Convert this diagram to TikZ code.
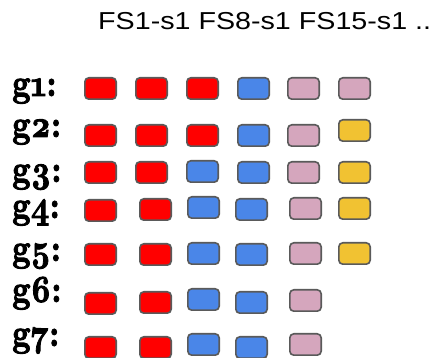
\documentclass[tikz,border=0pt]{standalone}
\usepackage{fontspec}
\newfontfamily\headfont{Liberation Sans}
\newfontfamily\lblfont{lmroman10-bold}[Extension=.otf, Numbers=OldStyle, FakeBold=2.5]

\definecolor{boxred}{HTML}{FF0000}
\definecolor{boxblue}{HTML}{4A86E8}
\definecolor{boxpink}{HTML}{D5A6BD}
\definecolor{boxgold}{HTML}{F1C232}
\definecolor{boxline}{HTML}{5A5A5A}

\newcommand{\grp}[1]{\scalebox{1}[1.2]{g#1:}}

\tikzset{
  cell/.style={draw=boxline, line width=1.6pt, rounded corners=4pt,
    minimum width=31.4pt, minimum height=21.4pt, inner sep=0pt},
  redcell/.style={cell, fill=boxred},
  bluecell/.style={cell, fill=boxblue},
  pinkcell/.style={cell, fill=boxpink},
  goldcell/.style={cell, fill=boxgold},
  grplabel/.style={anchor=base west, inner sep=0pt, font=\lblfont\fontsize{32}{32}\selectfont}
}

\begin{document}
\begin{tikzpicture}[x=1pt,y=-1pt]
\useasboundingbox (0,0) rectangle (440,358);

\node[anchor=base west, inner sep=0pt] (head) at (98,30)
  {\scalebox{1.17}[1]{\headfont\fontsize{24.5}{24.5}\selectfont FS1-s1 FS8-s1 FS15-s1 ..}};

% g1
\node[grplabel] (l1) at (12,96) {\grp{1}};
\node[redcell] (a1) at (100.5,88.5) {};
\node[redcell] (b1) at (151.5,88.5) {};
\node[redcell] (c1) at (202.5,88.5) {};
\node[bluecell] (d1) at (253.5,88.5) {};
\node[pinkcell] (e1) at (303.5,88.5) {};
\node[pinkcell] (f1) at (354.5,88.5) {};

% g2
\node[grplabel] (l2) at (12,137) {\grp{2}};
\node[redcell] (a2) at (100.5,135.5) {};
\node[redcell] (b2) at (151.5,135.5) {};
\node[redcell] (c2) at (202.5,135.5) {};
\node[bluecell] (d2) at (253.5,135.5) {};
\node[pinkcell] (e2) at (303.5,135.5) {};
\node[goldcell] (f2) at (354.5,130.5) {};

% g3
\node[grplabel] (l3) at (12,182) {\grp{3}};
\node[redcell] (a3) at (100.5,172.5) {};
\node[redcell] (b3) at (151.5,172.5) {};
\node[bluecell] (c3) at (202.5,171.5) {};
\node[bluecell] (d3) at (253.5,172.5) {};
\node[pinkcell] (e3) at (303.5,172.5) {};
\node[goldcell] (f3) at (354.5,172.5) {};

% g4
\node[grplabel] (l4) at (12,218) {\grp{4}};
\node[redcell] (a4) at (100.5,210.5) {};
\node[redcell] (b4) at (155.5,209.5) {};
\node[bluecell] (c4) at (203.5,207.5) {};
\node[bluecell] (d4) at (251.5,209.5) {};
\node[pinkcell] (e4) at (305.5,208.5) {};
\node[goldcell] (f4) at (354.5,208.5) {};

% g5
\node[grplabel] (l5) at (12,261) {\grp{5}};
\node[redcell] (a5) at (100.5,254.5) {};
\node[redcell] (b5) at (155.5,254.5) {};
\node[bluecell] (c5) at (203.5,253.5) {};
\node[bluecell] (d5) at (251.5,254.5) {};
\node[pinkcell] (e5) at (305.5,253.5) {};
\node[goldcell] (f5) at (354.5,253.5) {};

% g6
\node[grplabel] (l6) at (12,302) {\grp{6}};
\node[redcell] (a6) at (100.5,303.5) {};
\node[redcell] (b6) at (155.5,302.5) {};
\node[bluecell] (c6) at (203.5,299.5) {};
\node[bluecell] (d6) at (251.5,302.5) {};
\node[pinkcell] (e6) at (305.5,300.5) {};

% g7
\node[grplabel] (l7) at (12,346) {\grp{7}};
\node[redcell] (a7) at (100.5,347.5) {};
\node[redcell] (b7) at (155.5,347.5) {};
\node[bluecell] (c7) at (203.5,344.5) {};
\node[bluecell] (d7) at (251.5,347.5) {};
\node[pinkcell] (e7) at (305.5,344.5) {};
\end{tikzpicture}
\end{document}
